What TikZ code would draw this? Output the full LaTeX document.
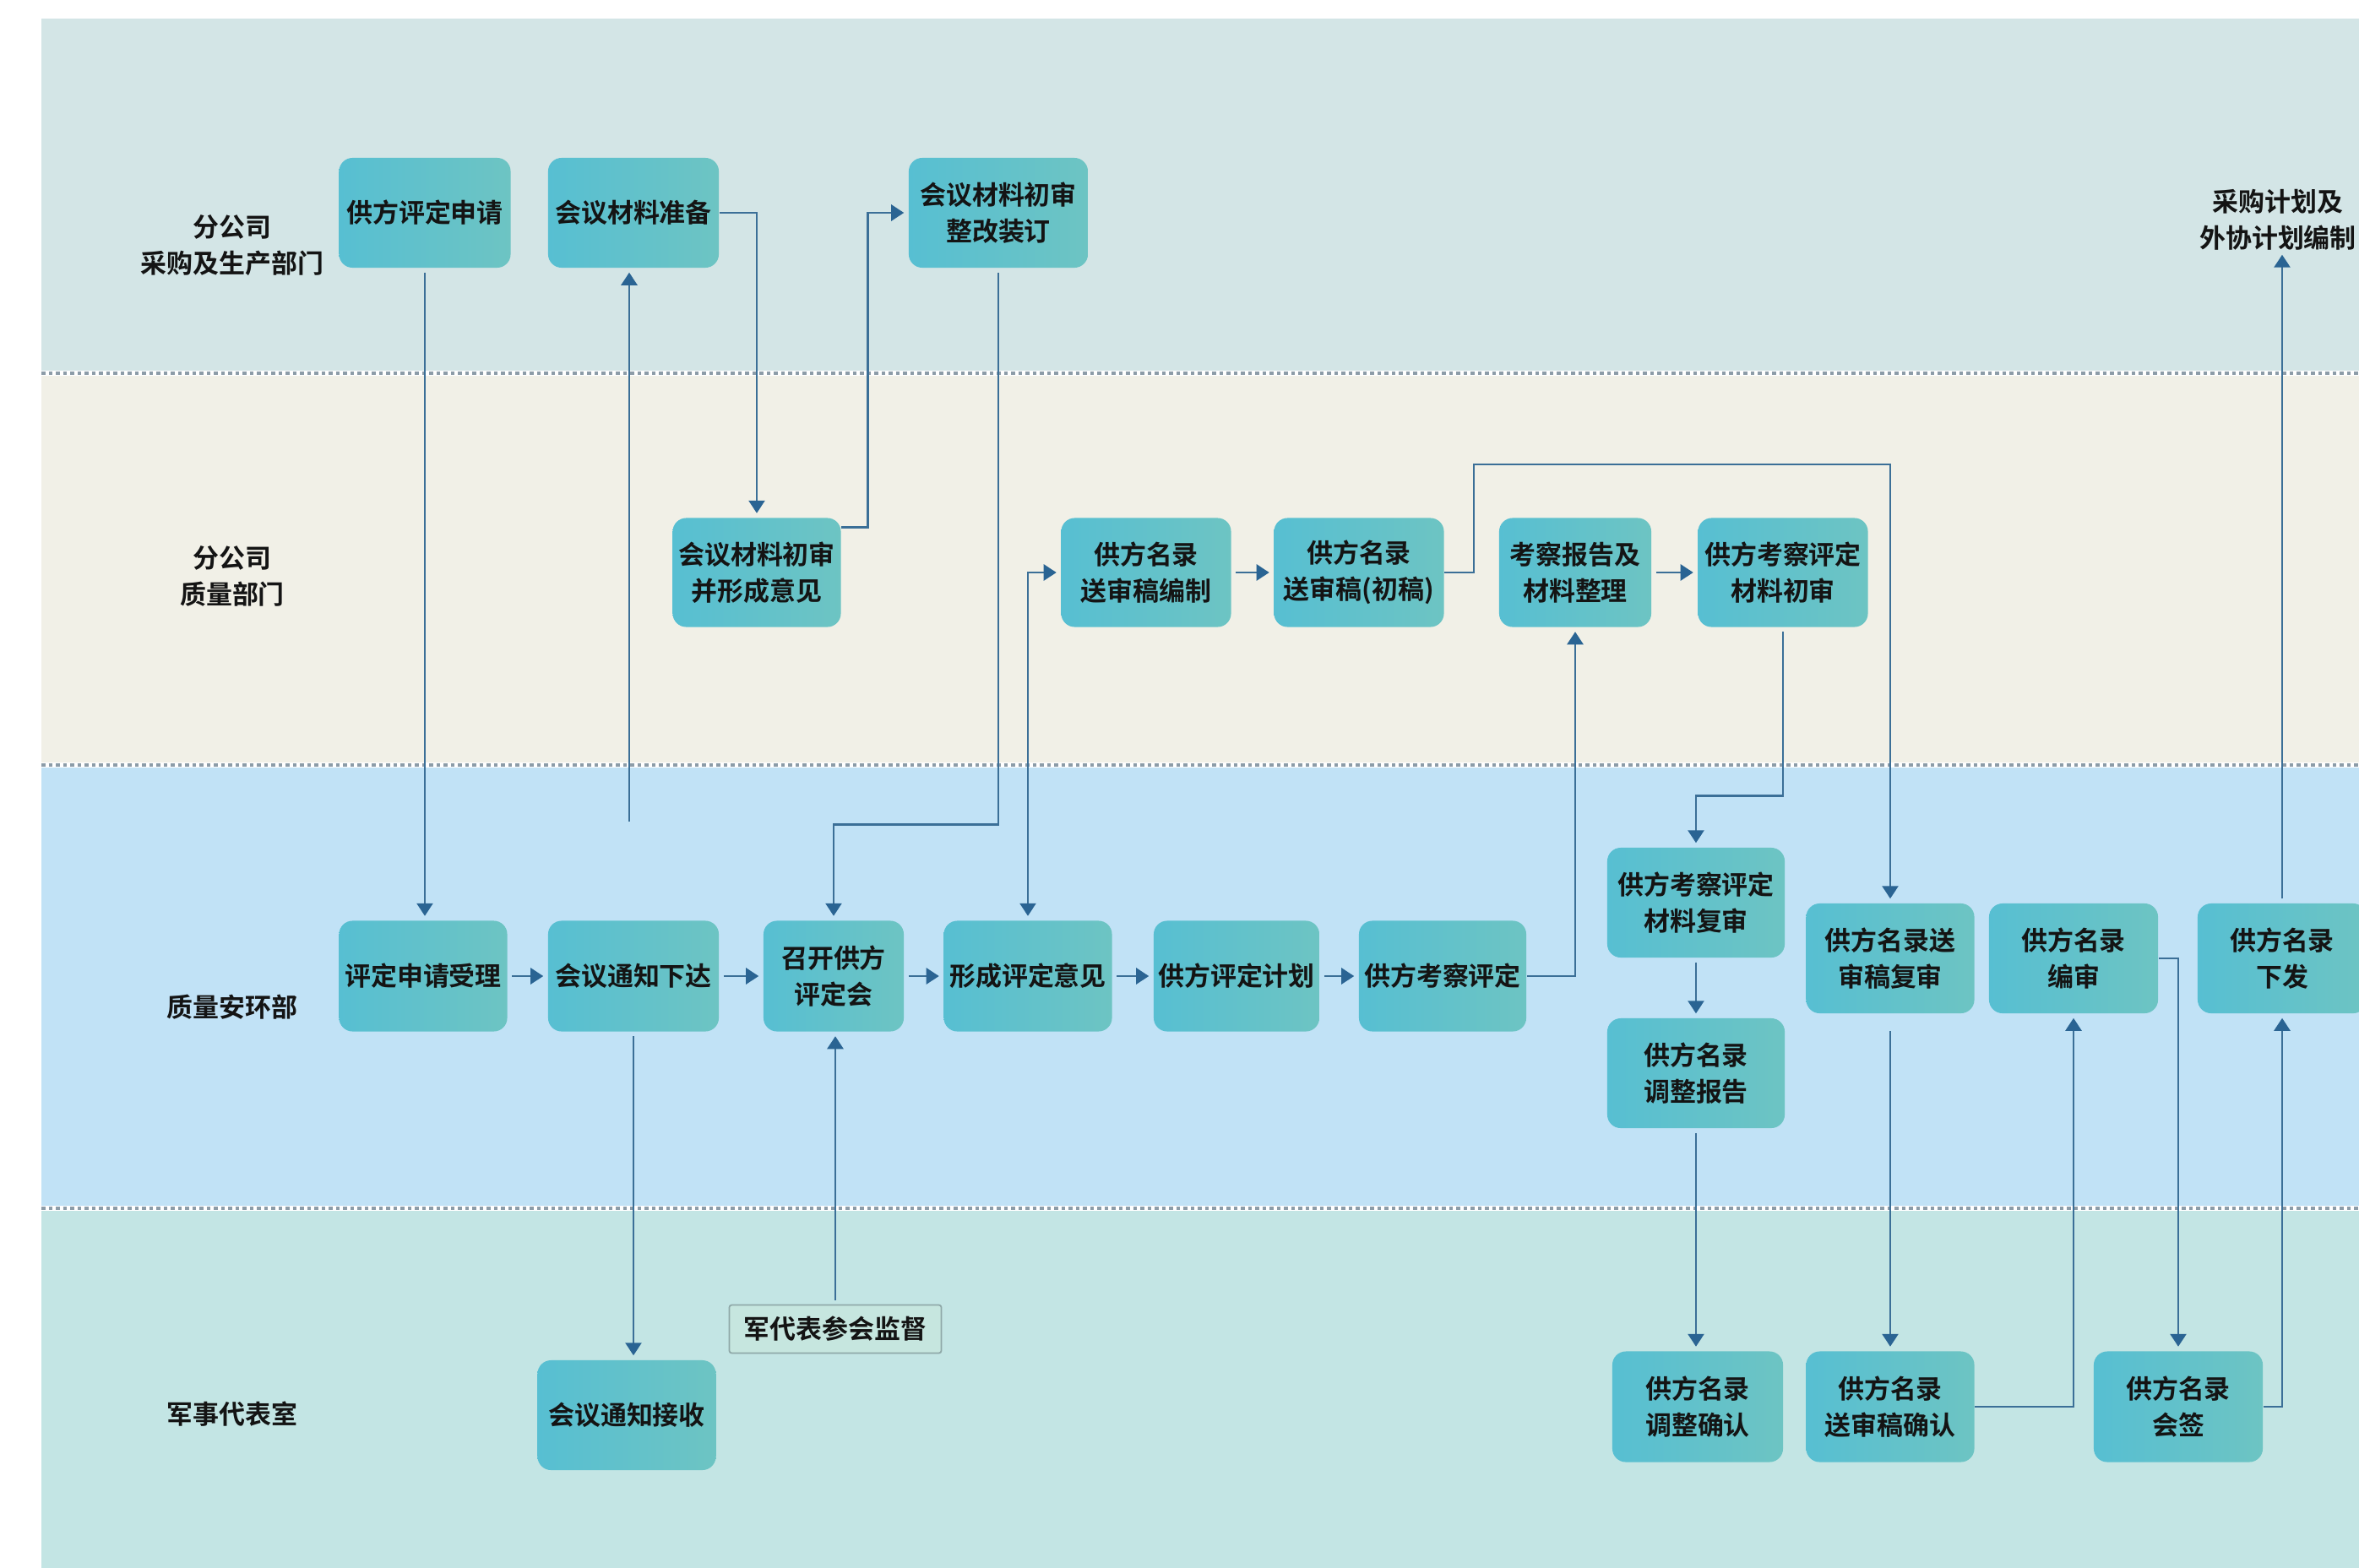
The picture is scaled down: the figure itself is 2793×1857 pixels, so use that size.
\documentclass[tikz,border=0pt]{standalone}
\usepackage{fontspec}
\newfontfamily\cjk{Noto Sans CJK SC}[BoldFont={* Bold}]
\usetikzlibrary{arrows.meta,calc}
\definecolor{laneA}{HTML}{D3E5E6}
\definecolor{laneB}{HTML}{F1F0E7}
\definecolor{laneC}{HTML}{C1E2F6}
\definecolor{laneD}{HTML}{C3E5E4}
\definecolor{boxL}{HTML}{57BFD2}
\definecolor{boxR}{HTML}{6DC4C3}
\definecolor{lnc}{HTML}{3B6F97}
\definecolor{tipc}{HTML}{2A6493}
\definecolor{divc}{HTML}{8C9CA8}
\definecolor{supf}{HTML}{C6E6DF}
\definecolor{supd}{HTML}{8FA8A8}
\tikzset{
  txt/.style={font=\cjk\bfseries\fontsize{8.8}{12.2}\selectfont, text=black!92, align=center, inner sep=0pt},
  stepbox/.style={txt, rounded corners=0.16cm, left color=boxL, right color=boxR, draw=none},
  supbox/.style={txt, rounded corners=0.03cm, fill=supf, draw=supd, line width=0.5pt},
  arr/.style={draw=lnc, line width=0.75pt, -{Triangle[length=0.15cm,width=0.19cm,color=tipc]}, shorten >=0.05cm, shorten <=0.05cm},
  biarr/.style={draw=lnc, line width=0.75pt, {Triangle[length=0.15cm,width=0.19cm,color=tipc]}-{Triangle[length=0.15cm,width=0.19cm,color=tipc]}, shorten >=0.05cm, shorten <=0.05cm},
  divline/.style={draw=divc, line width=1.1pt, dash pattern=on 0.045cm off 0.04cm},
}
\begin{document}
\begin{tikzpicture}[x=0.01cm,y=-0.01cm]
\useasboundingbox (0,0) rectangle (2793,1857);
\fill[white] (0,0) rectangle (2793,1857);
% lanes
\fill[laneA] (49,22) rectangle (2793,442);
\fill[laneB] (49,442) rectangle (2793,906);
\fill[laneC] (49,906) rectangle (2793,1431);
\fill[laneD] (49,1431) rectangle (2793,1857);
\foreach \yy in {442,906,1431} {
  \draw[white, line width=1.6pt] (49,\yy) -- (2793,\yy);
  \draw[divline] (49,\yy) -- (2793,\yy);
}
% lane labels
\node[txt] (LA) at (275,291) {分公司\\采购及生产部门};
\node[txt] (LB) at (275,682) {分公司\\质量部门};
\node[txt] (LC) at (275,1193) {质量安环部};
\node[txt] (LD) at (275,1675) {军事代表室};
% lane 1
\node[stepbox, minimum width=2.03cm, minimum height=1.30cm] (A1) at (503,252) {供方评定申请};
\node[stepbox, minimum width=2.02cm, minimum height=1.30cm] (A2) at (750,252) {会议材料准备};
\node[stepbox, minimum width=2.12cm, minimum height=1.30cm] (A3) at (1182,252) {会议材料初审\\整改装订};
\node[txt] (T) at (2697,260) {采购计划及\\外协计划编制};
% lane 2
\node[stepbox, minimum width=1.99cm, minimum height=1.29cm] (B1) at (896,678) {会议材料初审\\并形成意见};
\node[stepbox, minimum width=2.01cm, minimum height=1.29cm] (B2) at (1357,678) {供方名录\\送审稿编制};
\node[stepbox, minimum width=2.01cm, minimum height=1.29cm] (B3) at (1609,678) {供方名录\\送审稿(初稿)};
\node[stepbox, minimum width=1.80cm, minimum height=1.29cm] (B4) at (1865,678) {考察报告及\\材料整理};
\node[stepbox, minimum width=2.01cm, minimum height=1.29cm] (B5) at (2111,678) {供方考察评定\\材料初审};
% lane 3
\node[stepbox, minimum width=1.99cm, minimum height=1.31cm] (C1) at (501,1156) {评定申请受理};
\node[stepbox, minimum width=2.02cm, minimum height=1.31cm] (C2) at (750,1156) {会议通知下达};
\node[stepbox, minimum width=1.66cm, minimum height=1.31cm] (C3) at (987,1156) {召开供方\\评定会};
\node[stepbox, minimum width=1.99cm, minimum height=1.31cm] (C4) at (1217,1156) {形成评定意见};
\node[stepbox, minimum width=1.96cm, minimum height=1.31cm] (C5) at (1464,1156) {供方评定计划};
\node[stepbox, minimum width=1.98cm, minimum height=1.31cm] (C6) at (1708,1156) {供方考察评定};
\node[stepbox, minimum width=2.10cm, minimum height=1.30cm] (C7) at (2008,1069) {供方考察评定\\材料复审};
\node[stepbox, minimum width=2.10cm, minimum height=1.30cm] (C8) at (2008,1271) {供方名录\\调整报告};
\node[stepbox, minimum width=1.99cm, minimum height=1.30cm] (C9) at (2238,1135) {供方名录送\\审稿复审};
\node[stepbox, minimum width=2.00cm, minimum height=1.30cm] (C10) at (2455,1135) {供方名录\\编审};
\node[stepbox, minimum width=2.00cm, minimum height=1.30cm] (C11) at (2702,1135) {供方名录\\下发};
% lane 4
\node[stepbox, minimum width=2.11cm, minimum height=1.30cm] (D1) at (742,1676) {会议通知接收};
\node[supbox, minimum width=2.51cm, minimum height=0.57cm] (D2) at (989,1574) {军代表参会监督};
\node[stepbox, minimum width=2.02cm, minimum height=1.31cm] (D3) at (2010,1666) {供方名录\\调整确认};
\node[stepbox, minimum width=1.99cm, minimum height=1.31cm] (D4) at (2238,1666) {供方名录\\送审稿确认};
\node[stepbox, minimum width=2.00cm, minimum height=1.31cm] (D5) at (2579,1666) {供方名录\\会签};
% free points
\coordinate (g1) at (745,973);
\coordinate (k1) at (1745,550);
% connectors
\draw[arr] (A1.south) -- (A1.south |- C1.north);
\draw[arr, shorten <=0pt] (g1) -- (g1 |- A2.south);
\draw[arr, shorten <=0pt] (A2.east) -| (B1.north);
\draw[arr, shorten <=0pt] ($(B1.north east)+(0,12)$) -- ++(31,0) |- (A3.west);
\draw[arr] (A3.south) |- ($(C3.north)+(0,-113)$) -- (C3.north);
\draw[biarr] (C4.north) |- (B2.west);
\draw[arr] (D2.north) -- (D2.north |- C3.south);
\draw[arr] (C2.south) -- (C2.south |- D1.north);
\draw[arr] (C1) -- (C2);
\draw[arr] (C2) -- (C3);
\draw[arr] (C3) -- (C4);
\draw[arr] (C4) -- (C5);
\draw[arr] (C5) -- (C6);
\draw[arr] (B2) -- (B3);
\draw[arr] (B4) -- (B5);
\draw[arr, shorten <=0pt] (B3.east) -| (k1) -| (C9.north);
\draw[arr, shorten <=0pt] (C6.east) -| (B4.south);
\draw[arr] (B5.south) |- ($(C7.north)+(0,-61)$) -- (C7.north);
\draw[arr] (C7) -- (C8);
\draw[arr] (C8.south) -- (C8.south |- D3.north);
\draw[arr, shorten <=0.2cm] (C9) -- (D4);
\draw[arr, shorten <=0pt] (D4.east) -| (C10.south);
\draw[arr, shorten <=0pt] (C10.east) -| (D5.north);
\draw[arr, shorten <=0pt] (D5.east) -| (C11.south);
\draw[arr] (C11.north) -- (C11.north |- T.south);
\end{tikzpicture}
\end{document}
